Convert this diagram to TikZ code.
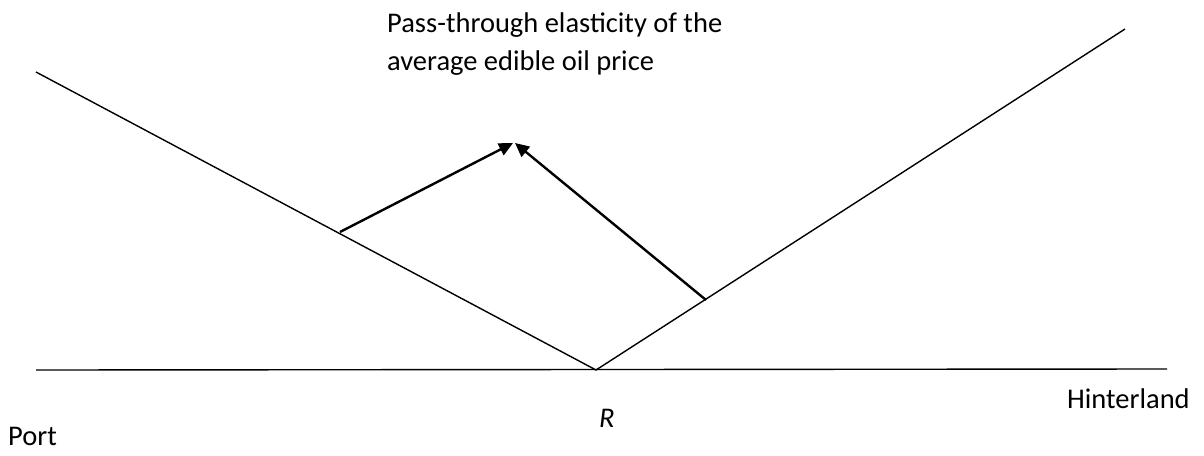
\documentclass[tikz,border=0pt]{standalone}
\usepackage{fontspec}
\setmainfont{Carlito}
\usetikzlibrary{arrows.meta}
\tikzset{
  axisline/.style={line width=1.4pt, black},
  effect/.style={line width=2.4pt, black, -{Triangle[length=14pt,width=13pt]}},
  lbl/.style={inner sep=0pt, font=\fontsize{28.5}{38.5}\selectfont}
}
\begin{document}
\begin{tikzpicture}[x=1pt,y=-1pt]
\useasboundingbox (0,0) rectangle (1204,455);
\coordinate (HL) at (36,370);
\coordinate (HR) at (1167,369);
\coordinate (LT) at (36,72);
\coordinate (V) at (596,370);
\coordinate (RT) at (1125,29);
\coordinate (A1s) at (340,232);
\coordinate (A1e) at (513,143);
\coordinate (A2s) at (706,300);
\coordinate (A2e) at (515,143);
\draw[axisline] (HL) -- (HR);
\draw[axisline] (LT) -- (V) -- (RT);
\draw[effect] (A1s) -- (A1e);
\draw[effect] (A2s) -- (A2e);
\node[lbl, anchor=base west, align=left] (title) at (387,70.5) {Pass-through elasticity of the\\average edible oil price};
\node[lbl, anchor=base west] (hint) at (1067,408) {Hinterland};
\node[lbl, anchor=base west] (port) at (8,445) {Port};
\node[lbl, anchor=base west] (r) at (599,427) {\itshape R};
\end{tikzpicture}
\end{document}
